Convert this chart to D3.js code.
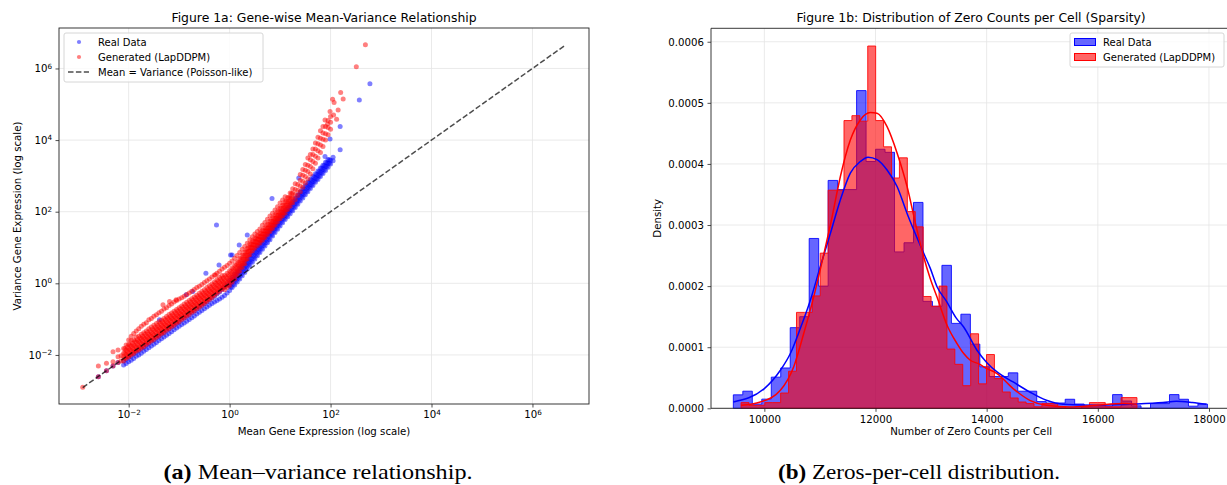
<!DOCTYPE html>
<html lang="en">
<head>
<meta charset="UTF-8">
<title>Figure 1</title>
<script src="https://d3js.org/d3.v7.min.js"></script>
<style>
    body { margin: 0; background: #fff; }
    svg { font-family: "DejaVu Sans", sans-serif; }
    .grid line { stroke: #e4e4e4; stroke-width: 0.8; }
    .axis text { font-size: 10.2px; fill: #000; font-family: "DejaVu Sans", sans-serif; }
    .axis line { stroke: #222; stroke-width: 0.8; }
    .title { font-size: 12.4px; text-anchor: middle; }
    .label { font-size: 10.2px; text-anchor: middle; }
    .legend text { font-size: 10px; }
    .caption { font-family: "Liberation Serif", serif; font-size: 21px; text-anchor: middle; }
</style>
</head>
<body>
<svg width="1227" height="485"></svg>
<script>
    // ---------- Figure 1a data (log10 mean, log10 variance) ----------
    // each column: [log10 mean, log10 variance, log10 variance, ...]
    const realCols = [
        [-2.60, -2.61], [-2.44, -2.44], [-2.31, -2.31], [-2.21, -2.21],
        [-2.10, -2.28, -2.16], [-2.05, -2.24, -2.12], [-2.00, -2.19, -2.06], [-1.95, -2.15, -2.03],
        [-1.90, -2.10, -1.97], [-1.85, -2.04, -1.92], [-1.80, -2.00, -1.88], [-1.75, -1.95, -1.82],
        [-1.70, -1.90, -1.78], [-1.65, -1.85, -1.72], [-1.60, -1.80, -1.68], [-1.55, -1.75, -1.62],
        [-1.50, -1.70, -1.58], [-1.45, -1.65, -1.52], [-1.40, -1.60, -1.47], [-1.35, -1.55, -1.42],
        [-1.30, -1.50, -1.37], [-1.25, -1.45, -1.32], [-1.20, -1.40, -1.27], [-1.15, -1.35, -1.22],
        [-1.10, -1.30, -1.17], [-1.05, -1.25, -1.12], [-1.00, -1.20, -1.07], [-0.95, -1.15, -1.02],
        [-0.90, -1.11, -0.97], [-0.85, -1.06, -0.92], [-0.80, -1.01, -0.87], [-0.75, -0.96, -0.82],
        [-0.70, -0.91, -0.77], [-0.65, -0.86, -0.72], [-0.60, -0.81, -0.67], [-0.55, -0.76, -0.62],
        [-0.50, -0.71, -0.57], [-0.45, -0.66, -0.52], [-0.40, -0.61, -0.47], [-0.35, -0.56, -0.41],
        [-0.30, -0.52, -0.36], [-0.25, -0.48, -0.30], [-0.20, -0.44, -0.24], [-0.15, -0.39, -0.17],
        [-0.10, -0.34, -0.10], [-0.05, -0.27, -0.03],
        [0.00, -0.20, -0.06, 0.08], [0.05, -0.12, 0.02, 0.16], [0.10, -0.05, 0.10, 0.25],
        [0.15, 0.04, 0.18, 0.33], [0.20, 0.12, 0.27, 0.42], [0.25, 0.21, 0.36, 0.50],
        [0.30, 0.30, 0.45, 0.59], [0.35, 0.40, 0.54, 0.68], [0.40, 0.50, 0.64, 0.78],
        [0.45, 0.59, 0.73, 0.87], [0.50, 0.68, 0.82, 0.96], [0.55, 0.77, 0.91, 1.05],
        [0.60, 0.86, 1.00, 1.14], [0.65, 0.95, 1.09, 1.23], [0.70, 1.04, 1.18, 1.32],
        [0.75, 1.13, 1.27, 1.41], [0.80, 1.22, 1.36, 1.50], [0.85, 1.32, 1.46, 1.60],
        [0.90, 1.42, 1.55, 1.69], [0.95, 1.51, 1.64, 1.78], [1.00, 1.60, 1.73, 1.87],
        [1.05, 1.69, 1.82, 1.96], [1.10, 1.78, 1.91, 2.04], [1.15, 1.86, 1.99, 2.12],
        [1.20, 1.94, 2.07, 2.20], [1.25, 2.03, 2.16, 2.29], [1.30, 2.12, 2.25, 2.38],
        [1.35, 2.21, 2.34, 2.47], [1.40, 2.30, 2.43, 2.56], [1.45, 2.38, 2.51, 2.64],
        [1.50, 2.47, 2.60, 2.73], [1.55, 2.56, 2.69, 2.82], [1.60, 2.65, 2.77, 2.90],
        [1.65, 2.73, 2.85, 2.98], [1.70, 2.82, 2.94, 3.06], [1.75, 2.90, 3.02, 3.14],
        [1.80, 2.98, 3.10, 3.22], [1.85, 3.07, 3.19, 3.30], [1.90, 3.15, 3.27, 3.38],
        [1.95, 3.24, 3.35, 3.46], [2.00, 3.33, 3.44], [2.05, 3.42, 3.52],
        // in-between genes of the dense band
        [0.025, -0.10, 0.03], [0.075, -0.02, 0.12], [0.125, 0.07, 0.21], [0.175, 0.15, 0.30],
        [0.225, 0.24, 0.39], [0.275, 0.33, 0.48], [0.325, 0.42, 0.57], [0.375, 0.52, 0.66],
        [0.425, 0.61, 0.76], [0.475, 0.70, 0.85], [0.525, 0.79, 0.94], [0.575, 0.88, 1.03],
        [0.625, 0.97, 1.12], [0.675, 1.06, 1.21], [0.725, 1.15, 1.30], [0.775, 1.24, 1.39],
        [0.825, 1.34, 1.48], [0.875, 1.44, 1.58], [0.925, 1.53, 1.67], [0.975, 1.62, 1.76],
        [1.025, 1.71, 1.85], [1.075, 1.80, 1.94], [1.125, 1.89, 2.02], [1.175, 1.97, 2.10],
        [1.225, 2.05, 2.19], [1.275, 2.14, 2.28], [1.325, 2.23, 2.37], [1.375, 2.32, 2.46],
        [1.425, 2.41, 2.54], [1.475, 2.49, 2.63], [1.525, 2.58, 2.72], [1.575, 2.67, 2.80],
        [1.625, 2.75, 2.88], [1.675, 2.84, 2.96], [1.725, 2.92, 3.04], [1.775, 3.00, 3.12],
        [1.825, 3.09, 3.21], [1.875, 3.17, 3.29], [1.925, 3.26, 3.37], [1.975, 3.35, 3.45],
        // scattered genes
        [-0.26, 1.63], [0.84, 2.37], [0.35, 1.35], [0.05, 0.79], [1.37, 2.94], [1.99, 4.03],
        [2.19, 3.73], [2.19, 4.38], [2.57, 5.12], [2.78, 5.57], [1.89, 3.54], [-0.47, 0.28],
        [-0.21, 0.51], [0.02, 0.79], [0.19, 1.07], [-0.86, -0.32], [-0.73, -0.23], [-1.39, -1.02]
    ];

    const genCols = [
        [-2.91, -2.90], [-2.60, -2.61, -2.31], [-2.44, -2.44, -2.23], [-2.31, -2.31, -1.91, -2.19],
        [-2.21, -2.21, -1.86, -2.05], [-2.15, -2.17, -2.02],
        [-2.10, -2.17, -2.05, -1.95, -1.82], [-2.05, -2.10, -1.98, -1.86, -1.72],
        [-2.00, -2.06, -1.95, -1.83, -1.70, -1.58], [-1.95, -2.00, -1.87, -1.74, -1.60, -1.48],
        [-1.90, -1.96, -1.84, -1.72, -1.58, -1.40], [-1.85, -1.90, -1.77, -1.64, -1.50, -1.33],
        [-1.80, -1.86, -1.74, -1.62, -1.48, -1.27], [-1.75, -1.81, -1.68, -1.55, -1.42, -1.20],
        [-1.70, -1.77, -1.65, -1.52, -1.38, -1.14], [-1.65, -1.71, -1.59, -1.47, -1.33, -1.10],
        [-1.60, -1.66, -1.55, -1.42, -1.27, -1.02], [-1.55, -1.61, -1.49, -1.37, -1.22, -0.98],
        [-1.50, -1.57, -1.44, -1.31, -1.17, -0.92], [-1.45, -1.51, -1.39, -1.27, -1.12, -0.88],
        [-1.40, -1.47, -1.34, -1.22, -1.07, -0.82], [-1.35, -1.41, -1.29, -1.17, -1.03, -0.78],
        [-1.30, -1.37, -1.24, -1.12, -0.98, -0.72], [-1.25, -1.31, -1.19, -1.07, -0.93, -0.68],
        [-1.20, -1.27, -1.14, -1.01, -0.87, -0.62], [-1.15, -1.21, -1.09, -0.97, -0.83, -0.58],
        [-1.10, -1.17, -1.04, -0.92, -0.78, -0.52], [-1.05, -1.11, -0.99, -0.87, -0.73, -0.48],
        [-1.00, -1.07, -0.94, -0.82, -0.68, -0.44], [-0.95, -1.01, -0.89, -0.77, -0.63, -0.40],
        [-0.90, -0.97, -0.84, -0.72, -0.58, -0.36], [-0.85, -0.91, -0.79, -0.67, -0.53, -0.31],
        [-0.80, -0.87, -0.74, -0.62, -0.48, -0.27], [-0.75, -0.81, -0.69, -0.57, -0.43, -0.22],
        [-0.70, -0.77, -0.64, -0.52, -0.38, -0.17], [-0.65, -0.71, -0.59, -0.47, -0.33, -0.12],
        [-0.60, -0.67, -0.54, -0.42, -0.28, -0.08], [-0.55, -0.61, -0.49, -0.37, -0.23, -0.03],
        [-0.50, -0.56, -0.44, -0.32, -0.18, 0.02], [-0.45, -0.51, -0.38, -0.26, -0.12, 0.07],
        [-0.40, -0.45, -0.33, -0.21, -0.07, 0.12], [-0.35, -0.40, -0.28, -0.16, -0.02, 0.18],
        [-0.30, -0.34, -0.22, -0.10, 0.04, 0.23], [-0.25, -0.28, -0.16, -0.04, 0.10, 0.28],
        [-0.20, -0.22, -0.10, 0.02, 0.16, 0.34], [-0.15, -0.16, -0.04, 0.08, 0.22, 0.40],
        [-0.10, -0.18, -0.05, 0.08, 0.22, 0.45], [-0.05, -0.12, 0.01, 0.14, 0.28, 0.50],
        [0.00, -0.06, 0.08, 0.21, 0.35, 0.56], [0.05, 0.03, 0.16, 0.29, 0.43, 0.62],
        [0.10, 0.12, 0.25, 0.38, 0.51, 0.70], [0.15, 0.23, 0.35, 0.47, 0.60, 0.78],
        [0.20, 0.34, 0.46, 0.57, 0.69, 0.86], [0.25, 0.44, 0.56, 0.67, 0.79, 0.95],
        [0.30, 0.55, 0.66, 0.77, 0.88, 1.03], [0.35, 0.68, 0.78, 0.88, 0.98, 1.12],
        [0.40, 0.80, 0.90, 1.00, 1.10, 1.22], [0.45, 0.90, 0.99, 1.08, 1.18, 1.30],
        [0.50, 0.98, 1.07, 1.16, 1.26, 1.38], [0.55, 1.05, 1.14, 1.23, 1.33, 1.45],
        [0.60, 1.12, 1.21, 1.30, 1.40, 1.52], [0.65, 1.20, 1.29, 1.38, 1.48, 1.62],
        [0.70, 1.28, 1.37, 1.46, 1.56, 1.70], [0.75, 1.36, 1.45, 1.54, 1.65, 1.79],
        [0.80, 1.45, 1.54, 1.63, 1.74, 1.88], [0.85, 1.53, 1.62, 1.72, 1.83, 1.96],
        [0.90, 1.62, 1.71, 1.81, 1.92, 2.05], [0.95, 1.71, 1.80, 1.90, 2.01, 2.14],
        [1.00, 1.80, 1.89, 1.99, 2.10, 2.24], [1.05, 1.88, 1.98, 2.08, 2.19, 2.33],
        [1.10, 1.96, 2.07, 2.18, 2.29, 2.42], [1.15, 2.06, 2.17, 2.28, 2.40],
        [1.20, 2.15, 2.27, 2.39, 2.52], [1.25, 2.25, 2.38, 2.51, 2.64],
        [1.30, 2.34, 2.48, 2.62, 2.78], [1.35, 2.45, 2.60, 2.76],
        [1.40, 2.56, 2.72, 2.88, 3.04], [1.45, 2.68, 2.85, 3.02, 3.18],
        [1.50, 2.80, 2.98, 3.16, 3.32], [1.55, 2.92, 3.12, 3.30, 3.50],
        [1.60, 3.05, 3.26, 3.45, 3.60], [1.65, 3.20, 3.40, 3.60, 3.75],
        [1.70, 3.35, 3.55, 3.75, 3.92], [1.75, 3.50, 3.70, 3.90, 4.08],
        [1.80, 3.65, 3.86, 4.05, 4.26], [1.85, 3.82, 4.02, 4.20, 4.38],
        [1.90, 4.00, 4.18, 4.38], [1.95, 4.15, 4.35, 4.55], [2.00, 4.30, 4.50, 4.66],
        // in-between genes of the dense band
        [-2.075, -2.085, -1.955, -1.825], [-2.025, -2.035, -1.905, -1.775], [-1.975, -1.985, -1.855, -1.725],
        [-1.925, -1.935, -1.805, -1.675], [-1.875, -1.885, -1.755, -1.625], [-1.825, -1.835, -1.705, -1.575],
        [-1.775, -1.785, -1.655, -1.525], [-1.725, -1.735, -1.605, -1.475], [-1.675, -1.685, -1.555, -1.425],
        [-1.625, -1.635, -1.505, -1.375], [-1.575, -1.585, -1.455, -1.325], [-1.525, -1.535, -1.405, -1.275],
        [-1.475, -1.485, -1.355, -1.225], [-1.425, -1.435, -1.305, -1.175], [-1.375, -1.385, -1.255, -1.125],
        [-1.325, -1.335, -1.205, -1.075], [-1.275, -1.285, -1.155, -1.025], [-1.225, -1.235, -1.105, -0.975],
        [-1.175, -1.185, -1.055, -0.925], [-1.125, -1.135, -1.005, -0.875], [-1.075, -1.085, -0.955, -0.825],
        [-1.025, -1.035, -0.905, -0.775], [-0.975, -0.985, -0.855, -0.725], [-0.925, -0.935, -0.805, -0.675],
        [-0.875, -0.885, -0.755, -0.625], [-0.825, -0.835, -0.705, -0.575], [-0.775, -0.785, -0.655, -0.525],
        [-0.725, -0.735, -0.605, -0.475], [-0.675, -0.685, -0.555, -0.425], [-0.625, -0.635, -0.505, -0.375],
        [-0.575, -0.585, -0.455, -0.325], [-0.525, -0.535, -0.405, -0.275], [-0.475, -0.485, -0.355, -0.225],
        [-0.425, -0.430, -0.300, -0.170], [-0.375, -0.375, -0.245, -0.115], [-0.325, -0.320, -0.190, -0.060],
        [-0.275, -0.260, -0.130, 0.000], [-0.225, -0.200, -0.070, 0.060], [-0.175, -0.140, -0.010, 0.120],
        [-0.125, -0.110, 0.020, 0.150], [-0.075, -0.085, 0.045, 0.180], [-0.025, -0.030, 0.100, 0.240],
        [0.025, 0.05, 0.18, 0.32], [0.075, 0.13, 0.26, 0.40], [0.125, 0.23, 0.36, 0.49],
        [0.175, 0.34, 0.46, 0.58], [0.225, 0.45, 0.56, 0.68], [0.275, 0.55, 0.66, 0.78],
        [0.325, 0.67, 0.77, 0.88], [0.375, 0.79, 0.89, 0.99], [0.425, 0.90, 0.99, 1.09],
        [0.475, 0.99, 1.08, 1.17], [0.525, 1.07, 1.16, 1.25], [0.575, 1.14, 1.23, 1.32],
        [0.625, 1.21, 1.30, 1.39], [0.675, 1.29, 1.38, 1.47], [0.725, 1.37, 1.46, 1.55],
        [0.775, 1.46, 1.55, 1.64], [0.825, 1.54, 1.63, 1.73], [0.875, 1.63, 1.72, 1.82],
        [0.925, 1.72, 1.81, 1.91], [0.975, 1.80, 1.90, 2.00], [1.025, 1.89, 1.99, 2.09],
        [1.075, 1.97, 2.08, 2.19], [1.125, 2.06, 2.17, 2.29], [1.175, 2.16, 2.28, 2.40],
        [1.225, 2.26, 2.38, 2.51],
        // scattered genes
        [2.04, 5.14], [2.07, 5.05], [2.15, 4.84], [1.99, 4.80], [2.06, 4.70], [1.89, 4.56],
        [2.12, 4.58], [1.94, 4.45], [2.20, 5.33], [2.25, 5.15], [2.51, 6.05], [2.69, 6.66],
        [-1.32, -0.60], [-1.19, -0.51], [-1.06, -0.46], [-0.28, 0.23]
    ];

    const poissonRange = [-2.91, 6.66];   // log10 ends of the mean = variance line
    const logTicks = [-2, 0, 2, 4, 6];

    // ---------- Figure 1b data ----------
    const realBinStart = 9442, realBinWidth = 170.6;
    const realDensity = [
        0.000022, 0.000028, 0.000007, 0.000015, 0.000051, 0.000066, 0.000132, 0.000150, 0.000278, 0.000200,
        0.000373, 0.000358, 0.000358, 0.000520, 0.000404, 0.000424, 0.000419, 0.000256, 0.000271, 0.000337,
        0.000175, 0.000167, 0.000234, 0.000139, 0.000154, 0.000105, 0.000068, 0.000052, 0.000052, 0.000058,
        0.000028, 0.000028, 0.000011, 0.0000087, 0.0000087, 0.0000148, 0.000007, 0.0000035, 0.0000035, 0.0000035,
        0.0000224, 0.000012, 0.000004, 0, 0.0000077, 0.0000077, 0.0000224, 0.0000148, 0.0000035, 0.000007
    ];
    const genBinStart = 9581, genBinWidth = 142.46;
    const genDensity = [
        0.0000093, 0.0000047, 0.000005, 0.0000093, 0.0000093, 0.000025, 0.0000607, 0.000157, 0.000157, 0.000184,
        0.000254, 0.000357, 0.000357, 0.000471, 0.000479, 0.000470, 0.000593, 0.000471, 0.000428, 0.000377,
        0.000410, 0.000322, 0.000297, 0.000183, 0.000167, 0.000200, 0.000097, 0.000072, 0.000037, 0.000122,
        0.000040, 0.000088, 0.0000487, 0.0000267, 0.0000169, 0.0000103, 0.0000077, 0.0000025, 0.0000077, 0.0000077,
        0.0000025, 0, 0, 0.0000025, 0.0000093, 0.0000093, 0.0000025, 0.0000025, 0.0000175, 0.0000175
    ];
    const realKde = [
        [9442, 0.0000103], [10000, 0.0000323], [10288, 0.0000623], [10468, 0.0000897], [10648, 0.000131],
        [10828, 0.000177], [11007, 0.000232], [11187, 0.000286], [11367, 0.000341], [11547, 0.000385],
        [11727, 0.000404], [11866, 0.000411], [12028, 0.000407], [12208, 0.000390], [12388, 0.000363],
        [12568, 0.000319], [12866, 0.000254], [12986, 0.000229], [13107, 0.000199], [13278, 0.000175],
        [13450, 0.000148], [13586, 0.000133], [13826, 0.000095], [14000, 0.000075], [14186, 0.0000595],
        [14476, 0.0000431], [14776, 0.0000267], [15075, 0.0000131], [15375, 0.0000066], [15975, 0.0000049],
        [16575, 0.0000066], [17174, 0.0000093], [17414, 0.0000115], [17700, 0.0000095], [17954, 0.0000066]
    ];
    const genKde = [
        [9581, 0.0000049], [9928, 0.0000103], [10288, 0.0000295], [10527, 0.0000677], [10707, 0.000122],
        [10887, 0.000182], [11067, 0.000251], [11200, 0.000305], [11367, 0.000379], [11547, 0.000439],
        [11727, 0.000472], [11907, 0.000484], [12027, 0.000483], [12208, 0.000461], [12388, 0.000418],
        [12568, 0.000363], [12718, 0.000303], [12866, 0.000248], [12986, 0.000212], [13107, 0.000182],
        [13287, 0.000136], [13467, 0.000106], [13587, 0.0000897], [13706, 0.0000787], [13877, 0.0000720],
        [13946, 0.0000677], [14186, 0.0000569], [14476, 0.0000323], [14776, 0.0000131], [15075, 0.0000049],
        [15495, 0.000002], [15975, 0.0000049], [16455, 0.0000077], [16704, 0.0000066]
    ];
    const zeroTicks = [10000, 12000, 14000, 16000, 18000];
    const densityTicks = [0, 0.0001, 0.0002, 0.0003, 0.0004, 0.0005, 0.0006];

    const svg = d3.select("svg");

    function supText(sel, exp) {
        sel.text("10");
        sel.append("tspan").attr("dy", "-0.5em").attr("font-size", "7.2px")
            .text(exp < 0 ? "\u2212" + (-exp) : exp);
    }

    // ================= Figure 1a =================
    const A = { left: 59, right: 589, top: 28, bottom: 404 };
    const xA = d3.scaleLog().domain([Math.pow(10, -3.38), Math.pow(10, 7.12)]).range([A.left, A.right]);
    const yA = d3.scaleLog().domain([Math.pow(10, -3.37), Math.pow(10, 7.13)]).range([A.bottom, A.top]);

    const gridA = svg.append("g").attr("class", "grid");
    logTicks.forEach(t => {
        gridA.append("line").attr("x1", xA(Math.pow(10, t))).attr("x2", xA(Math.pow(10, t)))
            .attr("y1", A.top).attr("y2", A.bottom);
        gridA.append("line").attr("y1", yA(Math.pow(10, t))).attr("y2", yA(Math.pow(10, t)))
            .attr("x1", A.left).attr("x2", A.right);
    });

    svg.append("clipPath").attr("id", "clipA").append("rect")
        .attr("x", A.left).attr("y", A.top).attr("width", A.right - A.left).attr("height", A.bottom - A.top);

    const flat = cols => cols.flatMap(c => c.slice(1).map(v => [c[0], v]));
    const scatter = svg.append("g").attr("clip-path", "url(#clipA)");
    scatter.selectAll(".real").data(flat(realCols)).join("circle")
        .attr("cx", d => xA(Math.pow(10, d[0]))).attr("cy", d => yA(Math.pow(10, d[1])))
        .attr("r", 2.5).attr("fill", "blue").attr("fill-opacity", 0.5);
    scatter.selectAll(".gen").data(flat(genCols)).join("circle")
        .attr("cx", d => xA(Math.pow(10, d[0]))).attr("cy", d => yA(Math.pow(10, d[1])))
        .attr("r", 2.5).attr("fill", "red").attr("fill-opacity", 0.5);

    scatter.append("line")
        .attr("x1", xA(Math.pow(10, poissonRange[0]))).attr("y1", yA(Math.pow(10, poissonRange[0])))
        .attr("x2", xA(Math.pow(10, poissonRange[1]))).attr("y2", yA(Math.pow(10, poissonRange[1])))
        .attr("stroke", "#000").attr("stroke-opacity", 0.7).attr("stroke-width", 1.5)
        .attr("stroke-dasharray", "5.5,2.4");

    const axA = svg.append("g").attr("class", "axis").attr("transform", `translate(0,${A.bottom})`)
        .call(d3.axisBottom(xA).tickValues(logTicks.map(t => Math.pow(10, t))).tickSize(3.5).tickPadding(3.5).tickFormat(""));
    axA.selectAll(".tick text").each(function(d) { supText(d3.select(this), Math.round(Math.log10(d))); });
    const ayA = svg.append("g").attr("class", "axis").attr("transform", `translate(${A.left},0)`)
        .call(d3.axisLeft(yA).tickValues(logTicks.map(t => Math.pow(10, t))).tickSize(3.5).tickPadding(3.5).tickFormat(""));
    ayA.selectAll(".tick text").each(function(d) { supText(d3.select(this), Math.round(Math.log10(d))); });
    svg.selectAll(".axis .domain").remove();

    svg.append("rect").attr("x", A.left).attr("y", A.top).attr("width", A.right - A.left).attr("height", A.bottom - A.top)
        .attr("fill", "none").attr("stroke", "#222").attr("stroke-width", 0.9);

    svg.append("text").attr("class", "title").attr("x", (A.left + A.right) / 2).attr("y", 22)
        .text("Figure 1a: Gene-wise Mean-Variance Relationship");
    svg.append("text").attr("class", "label").attr("x", (A.left + A.right) / 2).attr("y", 435)
        .text("Mean Gene Expression (log scale)");
    svg.append("text").attr("class", "label")
        .attr("transform", `translate(21,${(A.top + A.bottom) / 2}) rotate(-90)`)
        .text("Variance Gene Expression (log scale)");

    const legA = svg.append("g").attr("class", "legend");
    legA.append("rect").attr("x", 64).attr("y", 33).attr("width", 199).attr("height", 49).attr("rx", 2)
        .attr("fill", "#fff").attr("fill-opacity", 0.8).attr("stroke", "#d6d6d6");
    [["Real Data", "blue"], ["Generated (LapDDPM)", "red"]].forEach(([name, col], i) => {
        legA.append("circle").attr("cx", 79).attr("cy", 42 + i * 15).attr("r", 2.1)
            .attr("fill", col).attr("fill-opacity", 0.5);
        legA.append("text").attr("x", 98).attr("y", 45.5 + i * 15).text(name);
    });
    legA.append("line").attr("x1", 68).attr("x2", 89).attr("y1", 72).attr("y2", 72)
        .attr("stroke", "#000").attr("stroke-opacity", 0.7).attr("stroke-width", 1.5).attr("stroke-dasharray", "5.5,2.4");
    legA.append("text").attr("x", 98).attr("y", 75.5).text("Mean = Variance (Poisson-like)");

    // ================= Figure 1b =================
    const B = { left: 711, right: 1231.2, top: 28.3, bottom: 408.3 };
    const xB = d3.scaleLinear().domain([9040, 18400]).range([B.left, B.right]);
    const yB = d3.scaleLinear().domain([0, 0.000622]).range([B.bottom, B.top]);

    const gridB = svg.append("g").attr("class", "grid");
    zeroTicks.forEach(t => gridB.append("line").attr("x1", xB(t)).attr("x2", xB(t)).attr("y1", B.top).attr("y2", B.bottom));
    densityTicks.forEach(t => gridB.append("line").attr("y1", yB(t)).attr("y2", yB(t)).attr("x1", B.left).attr("x2", B.right));

    function stepPoints(start, width, dens) {
        const pts = [[start, 0]];
        dens.forEach((d, i) => { pts.push([start + i * width, d]); pts.push([start + (i + 1) * width, d]); });
        pts.push([start + dens.length * width, 0]);
        return pts;
    }
    const stepLine = d3.line().x(p => xB(p[0])).y(p => yB(p[1]));
    svg.append("path").attr("d", stepLine(stepPoints(realBinStart, realBinWidth, realDensity)) + "Z")
        .attr("fill", "blue").attr("fill-opacity", 0.6).attr("stroke", "blue").attr("stroke-opacity", 0.85).attr("stroke-width", 1);
    svg.append("path").attr("d", stepLine(stepPoints(genBinStart, genBinWidth, genDensity)) + "Z")
        .attr("fill", "red").attr("fill-opacity", 0.6).attr("stroke", "red").attr("stroke-opacity", 0.85).attr("stroke-width", 1);

    const kdeLine = d3.line().x(p => xB(p[0])).y(p => yB(p[1])).curve(d3.curveMonotoneX);
    svg.append("path").attr("d", kdeLine(realKde)).attr("fill", "none").attr("stroke", "blue").attr("stroke-width", 1.5);
    svg.append("path").attr("d", kdeLine(genKde)).attr("fill", "none").attr("stroke", "red").attr("stroke-width", 1.5);

    const axB = svg.append("g").attr("class", "axis").attr("transform", `translate(0,${B.bottom})`)
        .call(d3.axisBottom(xB).tickValues(zeroTicks).tickSize(3.5).tickPadding(3.5).tickFormat(d3.format("d")));
    const ayB = svg.append("g").attr("class", "axis").attr("transform", `translate(${B.left},0)`)
        .call(d3.axisLeft(yB).tickValues(densityTicks).tickSize(3.5).tickPadding(3.5).tickFormat(d => d.toFixed(4)));
    svg.selectAll(".axis .domain").remove();

    svg.append("path")
        .attr("d", `M${B.right},${B.top}H${B.left}V${B.bottom}H${B.right}`)
        .attr("fill", "none").attr("stroke", "#222").attr("stroke-width", 0.9);

    svg.append("text").attr("class", "title").attr("x", (B.left + B.right) / 2).attr("y", 22)
        .text("Figure 1b: Distribution of Zero Counts per Cell (Sparsity)");
    svg.append("text").attr("class", "label").attr("x", (B.left + B.right) / 2).attr("y", 435)
        .text("Number of Zero Counts per Cell");
    svg.append("text").attr("class", "label")
        .attr("transform", `translate(661,${(B.top + B.bottom) / 2}) rotate(-90)`)
        .text("Density");

    const legB = svg.append("g").attr("class", "legend");
    legB.append("rect").attr("x", 1070).attr("y", 33).attr("width", 154).attr("height", 34).attr("rx", 2)
        .attr("fill", "#fff").attr("fill-opacity", 0.8).attr("stroke", "#d6d6d6");
    [["Real Data", "blue"], ["Generated (LapDDPM)", "red"]].forEach(([name, col], i) => {
        legB.append("rect").attr("x", 1074.5).attr("y", 38.5 + i * 15).attr("width", 21).attr("height", 7)
            .attr("fill", col).attr("fill-opacity", 0.6).attr("stroke", col).attr("stroke-width", 1);
        legB.append("text").attr("x", 1103).attr("y", 45.5 + i * 15).text(name);
    });

    // ================= captions =================
    const capA = svg.append("text").attr("class", "caption").attr("x", 318).attr("y", 479)
        .attr("textLength", 309).attr("lengthAdjust", "spacingAndGlyphs");
    capA.append("tspan").attr("font-weight", "bold").text("(a)");
    capA.append("tspan").text(" Mean\u2013variance relationship.");
    const capB = svg.append("text").attr("class", "caption").attr("x", 919).attr("y", 479)
        .attr("textLength", 282).attr("lengthAdjust", "spacingAndGlyphs");
    capB.append("tspan").attr("font-weight", "bold").text("(b)");
    capB.append("tspan").text(" Zeros-per-cell distribution.");
</script>
</body>
</html>
